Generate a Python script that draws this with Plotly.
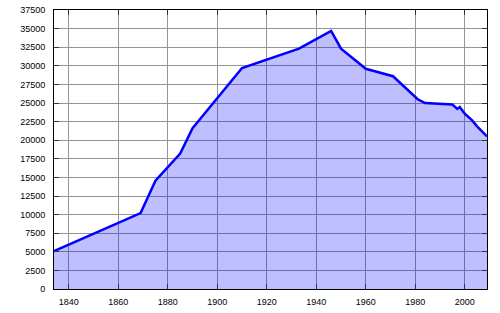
import plotly.graph_objects as go

years = [1834, 1869, 1875, 1885, 1890, 1910, 1933, 1946, 1950, 1960, 1971, 1981,
         1984, 1995, 1997, 1998, 2000, 2002, 2003, 2005, 2009]
population = [5100, 10200, 14550, 18200, 21600, 29700, 32300, 34700, 32300, 29600,
              28600, 25500, 25000, 24800, 24200, 24450, 23560, 22980, 22660, 21860, 20500]

x_ticks = [1840, 1860, 1880, 1900, 1920, 1940, 1960, 1980, 2000]
y_ticks = list(range(0, 37501, 2500))

fig = go.Figure()
fig.add_trace(go.Scatter(
    x=years, y=population, mode="lines", fill="tozeroy",
    fillcolor="rgba(0,0,255,0.25)",
    line=dict(color="#0000ff", width=2.5),
    hoverinfo="skip",
))

axis_common = dict(
    showline=True, linecolor="black", linewidth=1, mirror="ticks",
    ticks="inside", ticklen=5, tickcolor="#333333", tickwidth=1,
    showgrid=True, gridcolor="#959595", gridwidth=1,
    zeroline=False, automargin=False,
    tickfont=dict(family="Liberation Sans, Arial, sans-serif", size=9, color="black"),
)

fig.update_xaxes(range=[1834, 2009], tickvals=x_ticks,
                 ticktext=[str(v) for v in x_ticks], ticklabelstandoff=4, **axis_common)
fig.update_yaxes(range=[0, 37500], tickvals=y_ticks,
                 ticktext=[str(v) for v in y_ticks], ticklabelstandoff=6, **axis_common)

fig.update_layout(
    width=500, height=313,
    margin=dict(l=54, r=13, t=10, b=24),
    plot_bgcolor="white", paper_bgcolor="white",
    showlegend=False,
)

fig.write_html("out.html")
